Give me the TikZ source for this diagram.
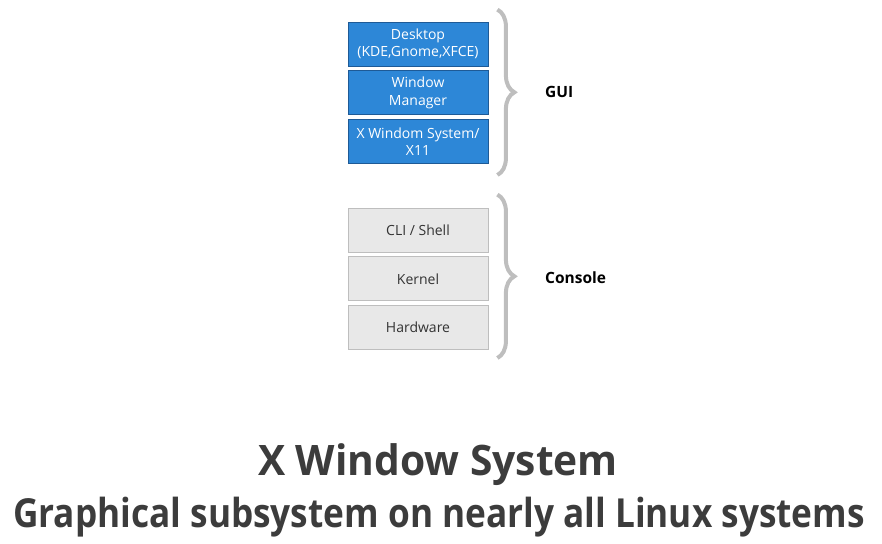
\documentclass[tikz,border=0pt]{standalone}
\usepackage{fontspec}
\setsansfont{Open Sans}
\newfontfamily\xwTitleFont[FakeStretch=0.97]{Open Sans}
\newfontfamily\xwSubFont[FakeStretch=0.88]{Open Sans}
\usepackage{tikz}
\usetikzlibrary{positioning,calc,decorations.pathreplacing}
\definecolor{xwBlue}{RGB}{45,135,215}
\definecolor{xwBlueDark}{RGB}{30,90,150}
\definecolor{xwGray}{RGB}{232,232,232}
\definecolor{xwGrayLine}{RGB}{190,190,190}
\definecolor{xwBrace}{RGB}{190,190,190}
\definecolor{xwInk}{RGB}{60,60,60}

\begin{document}
\begin{tikzpicture}[x=1pt,y=-1pt,font=\sffamily,
  node distance=4pt,
  layer/.style={minimum width=140pt,minimum height=44pt,inner sep=1pt,
                align=center,font=\sffamily\fontsize{14}{17.5}\selectfont},
  gui/.style={layer,fill=xwBlue,draw=xwBlueDark,line width=0.8pt,text=white},
  con/.style={layer,fill=xwGray,draw=xwGrayLine,line width=0.8pt,text=black!80},
  brc/.style={decorate,decoration={brace,amplitude=17pt},
              draw=xwBrace,line width=4pt},
  tag/.style={anchor=west,inner sep=0pt,font=\sffamily\bfseries\fontsize{15.5}{18}\selectfont}]
\useasboundingbox (0,0) rectangle (882,543);
% GUI stack
\node[gui] (desktop) at (418,44) {Desktop\\(KDE,Gnome,XFCE)};
\node[gui,below=of desktop] (wm) {Window\\Manager};
\node[gui,below=of wm] (xorg) {X Windom System/\\X11};
% console stack
\node[con] (shell) at (418,230) {CLI / Shell};
\node[con,below=of shell] (kernel) {Kernel};
\node[con,below=of kernel] (hw) {Hardware};
% braces
\coordinate (guiTop) at ($(desktop.north east)+(9,-12)$);
\coordinate (guiBot) at ($(xorg.south east)+(9,11)$);
\coordinate (conTop) at ($(shell.north east)+(9,-13)$);
\coordinate (conBot) at ($(hw.south east)+(9,8)$);
\draw[brc] (guiTop) -- (guiBot);
\draw[brc] (conTop) -- (conBot);
\node[tag] (gui) at (545,92) {GUI};
\node[tag] (console) at (545,278) {Console};
% caption
\node[text=xwInk,anchor=base,font=\xwTitleFont\bfseries\fontsize{42}{46}\selectfont]
  (title) at (438,475) {X Window System};
\node[text=xwInk,anchor=base,font=\xwSubFont\bfseries\fontsize{40}{44}\selectfont]
  (subtitle) at (439,527) {Graphical subsystem on nearly all Linux systems};
\end{tikzpicture}
\end{document}
